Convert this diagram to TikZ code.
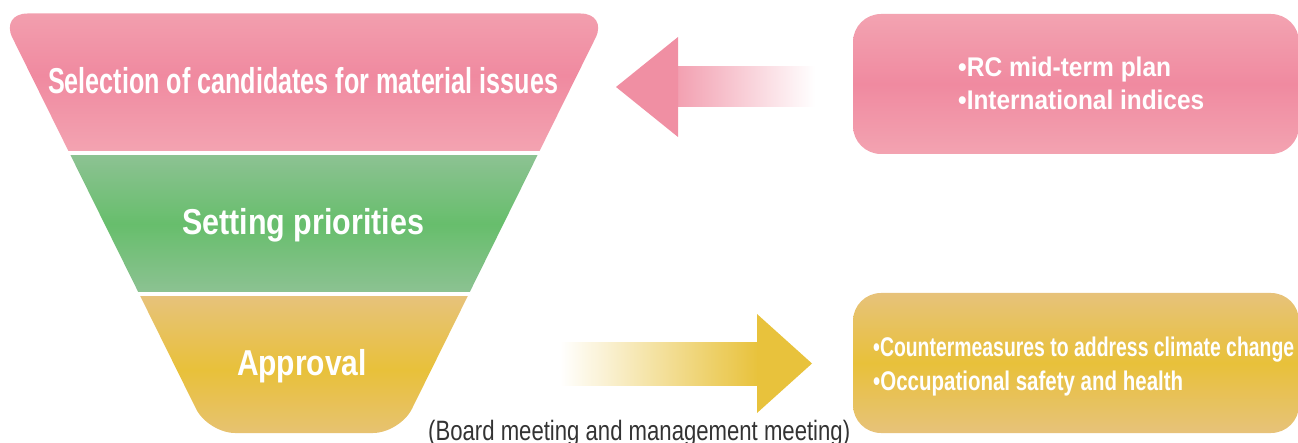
\documentclass[tikz,border=0pt]{standalone}
\usepackage{fontspec}
\setmainfont{Liberation Sans}
\usepackage{graphicx}
\definecolor{pinkE}{HTML}{F3A3B1}
\definecolor{pinkM}{HTML}{F08AA0}
\definecolor{greenE}{HTML}{8CC292}
\definecolor{greenM}{HTML}{67BE6C}
\definecolor{yelE}{HTML}{E7C27A}
\definecolor{yelM}{HTML}{E8C13A}
\definecolor{arrPink}{HTML}{F08FA3}
\definecolor{arrYel}{HTML}{E8C23C}
\definecolor{capgray}{HTML}{333333}
\newcommand\fitw[2]{\sbox0{#2}\pgfmathsetmacro\fwsx{#1/\the\wd0}\scalebox{\fwsx}[1]{\usebox0}}
\tikzset{
  stagetext/.style={text=white, font=\bfseries\fontsize{36}{40}\selectfont, inner sep=0pt, anchor=base},
  listtext/.style={text=white, font=\bfseries\fontsize{27}{30}\selectfont, inner sep=0pt, anchor=base west},
  notetext/.style={text=capgray, font=\fontsize{28}{32}\selectfont, inner sep=0pt, anchor=base west},
  pinkshade/.style={top color=pinkE, bottom color=pinkE, middle color=pinkM},
  greenshade/.style={top color=greenE, bottom color=greenE, middle color=greenM},
  yelshade/.style={top color=yelE, bottom color=yelE, middle color=yelM},
}
\begin{document}
\begin{tikzpicture}[x=1pt,y=-1pt]
\useasboundingbox (0,0) rectangle (1298,443);
\clip (0,0) rectangle (1298,443);
% funnel
\begin{scope}
  \clip[rounded corners=27pt] (0.4,13.5) -- (607.6,13.5) -- (400,433) -- (208,433) -- cycle;
  \shade[pinkshade] (0,0) rectangle (620,151);
  \shade[greenshade] (0,156) rectangle (620,292);
  \shade[yelshade] (0,297) rectangle (620,443);
\end{scope}
% right boxes
\shade[pinkshade, rounded corners=28pt] (853,14) rectangle (1299,154);
\shade[yelshade, rounded corners=28pt] (853,293) rectangle (1299,433);
% arrows
\shade[left color=arrPink!85!white, right color=white] (677,66.5) rectangle (815,107);
\fill[arrPink] (616,87) -- (678,37) -- (678,137) -- cycle;
\shade[left color=white, right color=arrYel] (560,343) rectangle (758,385);
\fill[arrYel] (757,314) -- (812,363.5) -- (757,413) -- cycle;
% texts
\node[stagetext] (sel) at (303,93.5) {\fitw{510}{Selection of candidates for material issues}};
\node[stagetext] (set) at (303,235) {\fitw{242}{Setting priorities}};
\node[stagetext] (app) at (302,375.5) {\fitw{130}{Approval}};
\node[listtext] (rc) at (958,77) {\fitw{213}{•RC mid-term plan}};
\node[listtext] (ii) at (958,110) {\fitw{246}{•International indices}};
\node[listtext] (cc) at (873,357) {\fitw{421}{•Countermeasures to address climate change}};
\node[listtext] (os) at (873,391) {\fitw{310}{•Occupational safety and health}};
\node[notetext] (bm) at (428,440) {\fitw{422}{(Board meeting and management meeting)}};
\end{tikzpicture}
\end{document}
